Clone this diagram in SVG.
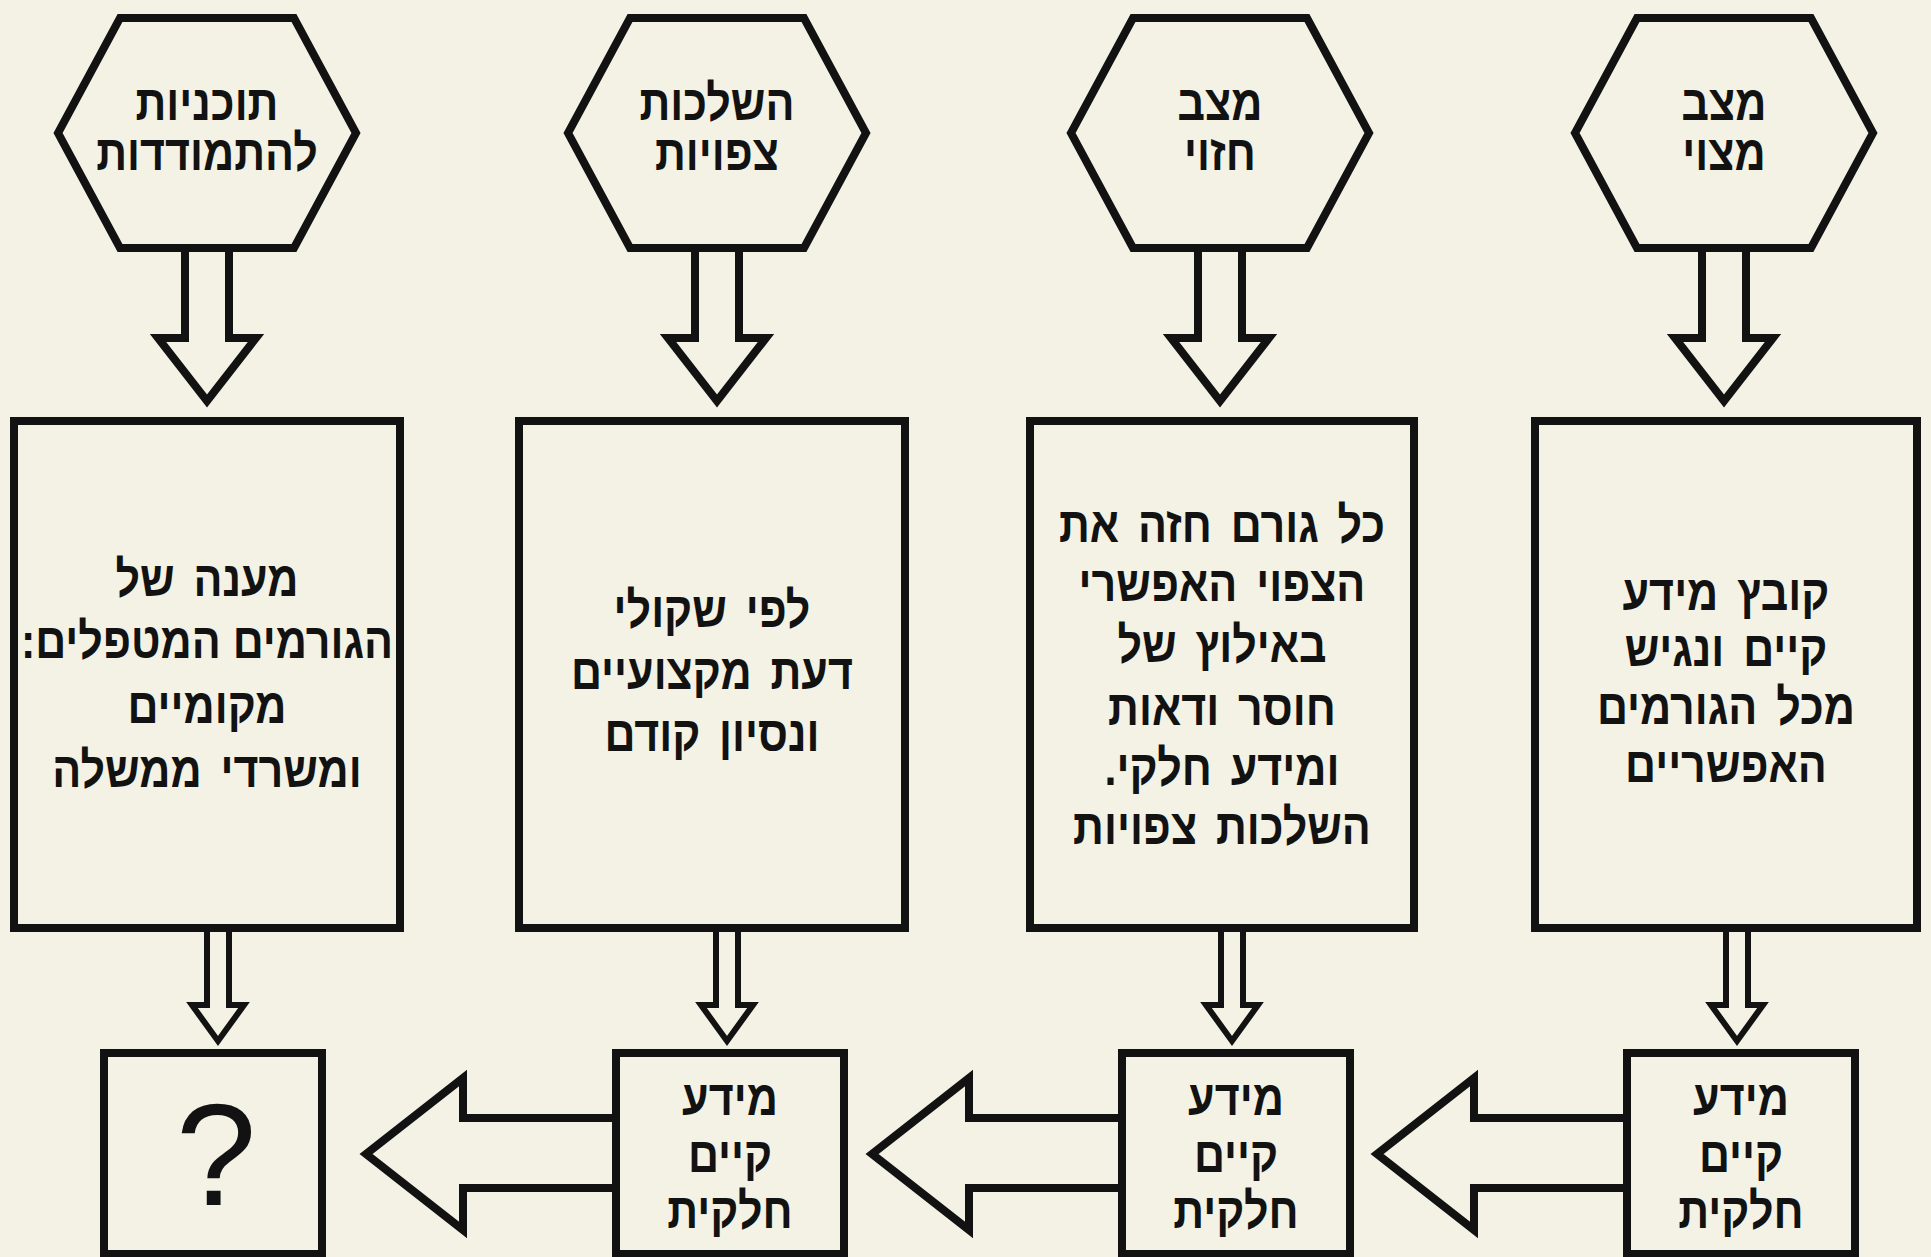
<svg xmlns="http://www.w3.org/2000/svg" width="1931" height="1257" viewBox="0 0 1931 1257">
<style>
.s{fill:none;stroke:#121212;stroke-width:8;stroke-linejoin:miter}
.a{fill:none;stroke:#121212;stroke-width:8;stroke-linejoin:miter}
.sa{fill:none;stroke:#121212;stroke-width:6;stroke-linejoin:miter}
.t{font-family:"Liberation Sans","DejaVu Sans",sans-serif;font-weight:bold;font-size:50px;fill:#121212;text-anchor:middle;direction:rtl;word-spacing:8px;transform-box:fill-box;transform-origin:center;transform:scaleX(0.86)}
.q{font-family:"Liberation Sans","DejaVu Sans",sans-serif;font-size:145px;fill:#121212;text-anchor:middle}
</style>
<rect x="0" y="0" width="1931" height="1257" fill="#f3f2e4"/>

<g id="connectors">
  <polygon class="a" points="185,248 185,338 158,338 207,401 256,338 229,338 229,248"/>
  <polygon class="a" points="695,248 695,338 668,338 717,401 766,338 739,338 739,248"/>
  <polygon class="a" points="1198,248 1198,338 1171,338 1220,401 1269,338 1242,338 1242,248"/>
  <polygon class="a" points="1702,248 1702,338 1675,338 1724,401 1773,338 1746,338 1746,248"/>
  <polygon class="sa" points="207,928 207,1005 192,1005 218,1041 244,1005 229,1005 229,928"/>
  <polygon class="sa" points="716,928 716,1005 701,1005 727,1041 753,1005 738,1005 738,928"/>
  <polygon class="sa" points="1221,928 1221,1005 1206,1005 1232,1041 1258,1005 1243,1005 1243,928"/>
  <polygon class="sa" points="1726,928 1726,1005 1711,1005 1737,1041 1763,1005 1748,1005 1748,928"/>
  <polygon class="a" points="1627,1118 1474,1118 1474,1078 1377,1154 1474,1230 1474,1188 1627,1188"/>
  <polygon class="a" points="1122,1118 969,1118 969,1078 872,1154 969,1230 969,1188 1122,1188"/>
  <polygon class="a" points="616,1118 463,1118 463,1078 366,1154 463,1230 463,1188 616,1188"/>
</g>

<g id="hex-plans">
  <polygon class="s" points="120,18 294,18 356,133 294,248 120,248 58,133"/>
  <text class="t" x="207" y="120">תוכניות</text>
  <text class="t" x="207" y="170">להתמודדות</text>
</g>
<g id="hex-implications">
  <polygon class="s" points="630,18 804,18 866,133 804,248 630,248 568,133"/>
  <text class="t" x="717" y="120">השלכות</text>
  <text class="t" x="717" y="170">צפויות</text>
</g>
<g id="hex-predicted">
  <polygon class="s" points="1133,18 1307,18 1369,133 1307,248 1133,248 1071,133"/>
  <text class="t" x="1220" y="120">מצב</text>
  <text class="t" x="1220" y="170">חזוי</text>
</g>
<g id="hex-current">
  <polygon class="s" points="1637,18 1811,18 1873,133 1811,248 1637,248 1575,133"/>
  <text class="t" x="1724" y="120">מצב</text>
  <text class="t" x="1724" y="170">מצוי</text>
</g>

<g id="box-response">
  <rect class="s" x="14" y="421" width="386" height="507"/>
  <text class="t" x="207" y="596">מענה של</text>
  <text class="t" x="207" y="658" style="word-spacing:0">הגורמים המטפלים:</text>
  <text class="t" x="207" y="723">מקומיים</text>
  <text class="t" x="207" y="787">ומשרדי ממשלה</text>
</g>
<g id="box-professional">
  <rect class="s" x="519" y="421" width="386" height="507"/>
  <text class="t" x="712" y="627">לפי שקולי</text>
  <text class="t" x="712" y="689">דעת מקצועיים</text>
  <text class="t" x="712" y="751">ונסיון קודם</text>
</g>
<g id="box-forecast">
  <rect class="s" x="1030" y="421" width="384" height="507"/>
  <text class="t" x="1222" y="542">כל גורם חזה את</text>
  <text class="t" x="1222" y="601">הצפוי האפשרי</text>
  <text class="t" x="1222" y="662">באילוץ של</text>
  <text class="t" x="1222" y="725">חוסר ודאות</text>
  <text class="t" x="1222" y="785">ומידע חלקי.</text>
  <text class="t" x="1222" y="844">השלכות צפויות</text>
</g>
<g id="box-existing">
  <rect class="s" x="1535" y="421" width="382" height="507"/>
  <text class="t" x="1726" y="610">קובץ מידע</text>
  <text class="t" x="1726" y="666">קיים ונגיש</text>
  <text class="t" x="1726" y="724">מכל הגורמים</text>
  <text class="t" x="1726" y="782">האפשריים</text>
</g>

<g id="info-1">
  <rect class="s" x="1627" y="1053" width="228" height="201"/>
  <text class="t" x="1741" y="1115">מידע</text>
  <text class="t" x="1741" y="1172">קיים</text>
  <text class="t" x="1741" y="1228">חלקית</text>
</g>
<g id="info-2">
  <rect class="s" x="1122" y="1053" width="228" height="201"/>
  <text class="t" x="1236" y="1115">מידע</text>
  <text class="t" x="1236" y="1172">קיים</text>
  <text class="t" x="1236" y="1228">חלקית</text>
</g>
<g id="info-3">
  <rect class="s" x="616" y="1053" width="228" height="201"/>
  <text class="t" x="730" y="1115">מידע</text>
  <text class="t" x="730" y="1172">קיים</text>
  <text class="t" x="730" y="1228">חלקית</text>
</g>
<g id="unknown">
  <rect class="s" x="104" y="1053" width="218" height="201"/>
  <text class="q" x="216" y="1205">?</text>
</g>
</svg>
